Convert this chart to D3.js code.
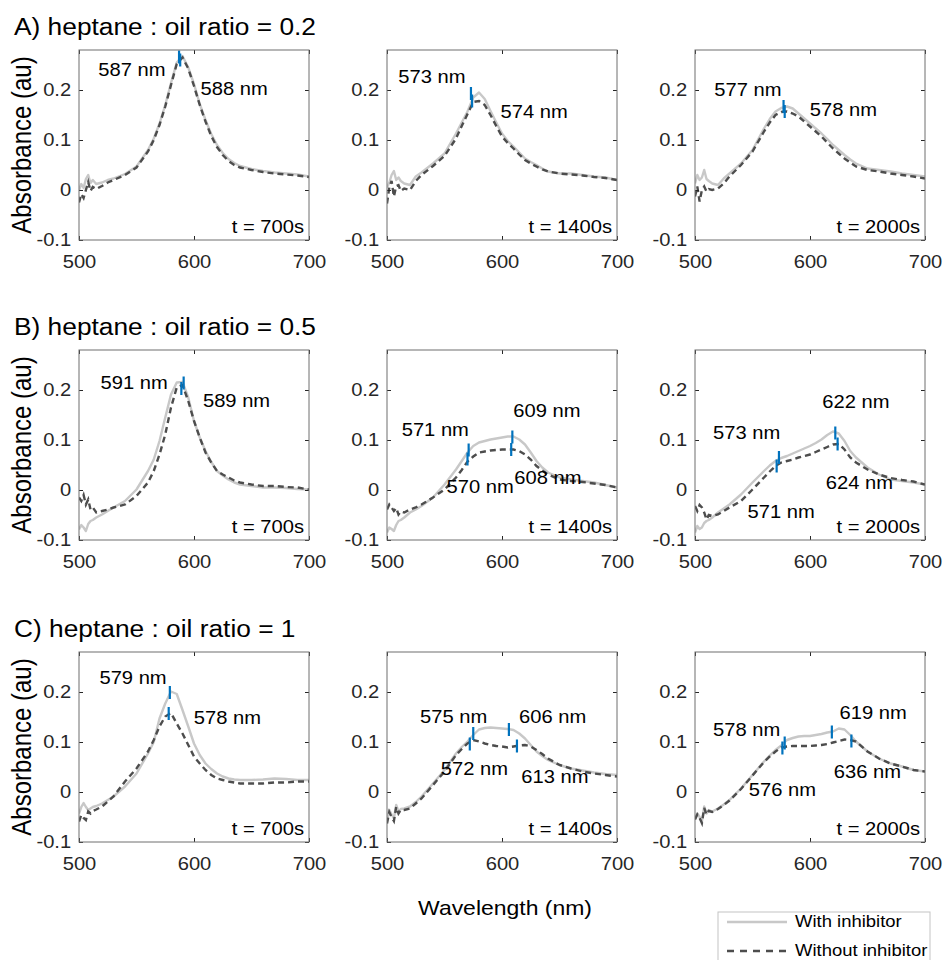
<!DOCTYPE html>
<html>
<head>
<meta charset="utf-8">
<script src="https://cdn.jsdelivr.net/npm/d3@7"></script>
<style>
  body { margin: 0; background: #fff; }
  svg text { font-family: "Liberation Sans", Arial, sans-serif; }
</style>
</head>
<body>
<svg id="chart" width="943" height="960"></svg>
<script>
// shared wavelength grid (nm)
const wavelength = [500, 502, 504, 506, 508, 510, 512, 515, 520, 525, 530, 540, 550, 560, 565, 570, 575, 580,
  585, 590, 595, 600, 605, 610, 615, 620, 625, 630, 635, 640, 650, 660, 670, 680, 690, 700];

// absorbance, with / without inhibitor, row A (ratio 0.2)
const a1With = [0.000, 0.012, 0.004, 0.022, 0.030, 0.014, 0.020, 0.012, 0.015, 0.020, 0.023, 0.032, 0.047, 0.080, 0.103, 0.133, 0.170, 0.214,
  0.255, 0.268, 0.245, 0.212, 0.172, 0.140, 0.112, 0.090, 0.074, 0.062, 0.054, 0.048, 0.042, 0.038, 0.035, 0.033, 0.031, 0.027];
const a1Without = [-0.025, -0.008, -0.016, 0.000, 0.016, -0.002, 0.006, 0.002, 0.008, 0.015, 0.020, 0.030, 0.045, 0.077, 0.100, 0.130, 0.167, 0.210,
  0.252, 0.265, 0.243, 0.208, 0.170, 0.137, 0.108, 0.086, 0.070, 0.058, 0.050, 0.045, 0.040, 0.036, 0.033, 0.031, 0.029, 0.026];
const a2With = [0.005, 0.015, 0.030, 0.038, 0.020, 0.025, 0.018, 0.013, 0.010, 0.027, 0.035, 0.053, 0.073, 0.113, 0.135, 0.157, 0.185, 0.195,
  0.182, 0.158, 0.135, 0.113, 0.098, 0.087, 0.075, 0.063, 0.056, 0.050, 0.043, 0.037, 0.033, 0.033, 0.030, 0.027, 0.025, 0.020];
const a2Without = [-0.027, 0.005, 0.018, -0.013, 0.008, 0.010, -0.002, 0.003, 0.000, 0.018, 0.030, 0.048, 0.068, 0.103, 0.128, 0.152, 0.176, 0.178,
  0.170, 0.150, 0.128, 0.107, 0.094, 0.083, 0.071, 0.060, 0.053, 0.047, 0.041, 0.037, 0.033, 0.031, 0.029, 0.026, 0.024, 0.020];
const a3With = [0.013, 0.030, 0.020, 0.025, 0.040, 0.022, 0.018, 0.013, 0.010, 0.023, 0.033, 0.053, 0.080, 0.123, 0.142, 0.157, 0.164, 0.167,
  0.163, 0.153, 0.143, 0.133, 0.123, 0.113, 0.102, 0.090, 0.080, 0.070, 0.061, 0.053, 0.043, 0.040, 0.037, 0.033, 0.030, 0.027];
const a3Without = [-0.013, 0.007, -0.023, 0.000, 0.007, -0.003, 0.002, 0.000, 0.003, 0.013, 0.027, 0.050, 0.077, 0.117, 0.135, 0.150, 0.156, 0.157,
  0.153, 0.147, 0.137, 0.127, 0.117, 0.107, 0.095, 0.083, 0.073, 0.063, 0.055, 0.047, 0.040, 0.037, 0.033, 0.030, 0.027, 0.023];

// row B (ratio 0.5)
const b1With = [-0.079, -0.070, -0.075, -0.082, -0.068, -0.062, -0.060, -0.055, -0.049, -0.042, -0.035, -0.022, 0.001, 0.038, 0.061, 0.098, 0.145, 0.191,
  0.215, 0.216, 0.185, 0.138, 0.105, 0.078, 0.056, 0.038, 0.029, 0.021, 0.015, 0.011, 0.008, 0.005, 0.005, 0.004, 0.002, 0.001];
const b1Without = [-0.015, -0.022, -0.010, -0.029, -0.019, -0.039, -0.035, -0.045, -0.042, -0.039, -0.035, -0.029, -0.012, 0.015, 0.038, 0.071, 0.111, 0.165,
  0.205, 0.210, 0.178, 0.138, 0.105, 0.075, 0.055, 0.038, 0.031, 0.025, 0.019, 0.015, 0.011, 0.008, 0.008, 0.006, 0.005, 0.001];
const b2With = [-0.085, -0.075, -0.078, -0.082, -0.070, -0.062, -0.060, -0.055, -0.045, -0.039, -0.032, -0.015, 0.011, 0.041, 0.058, 0.075, 0.088, 0.095,
  0.098, 0.101, 0.103, 0.105, 0.107, 0.107, 0.101, 0.091, 0.075, 0.058, 0.045, 0.035, 0.025, 0.021, 0.018, 0.015, 0.010, 0.005];
const b2Without = [-0.039, -0.029, -0.035, -0.042, -0.036, -0.049, -0.043, -0.045, -0.039, -0.035, -0.029, -0.015, 0.001, 0.025, 0.040, 0.057, 0.067, 0.075,
  0.077, 0.079, 0.080, 0.081, 0.081, 0.081, 0.078, 0.071, 0.061, 0.048, 0.039, 0.031, 0.021, 0.018, 0.016, 0.013, 0.010, 0.005];
const b3With = [-0.085, -0.072, -0.078, -0.075, -0.066, -0.062, -0.060, -0.055, -0.045, -0.037, -0.029, -0.009, 0.015, 0.038, 0.049, 0.058, 0.064, 0.068,
  0.073, 0.078, 0.083, 0.088, 0.094, 0.101, 0.110, 0.117, 0.113, 0.098, 0.078, 0.065, 0.045, 0.031, 0.021, 0.018, 0.015, 0.011];
const b3Without = [-0.032, -0.042, -0.030, -0.035, -0.045, -0.059, -0.050, -0.052, -0.049, -0.042, -0.035, -0.022, 0.001, 0.025, 0.037, 0.048, 0.055, 0.058,
  0.061, 0.065, 0.068, 0.071, 0.076, 0.081, 0.086, 0.091, 0.092, 0.081, 0.065, 0.055, 0.041, 0.031, 0.024, 0.020, 0.017, 0.011];

// row C (ratio 1)
const c1With = [-0.043, -0.030, -0.022, -0.030, -0.036, -0.033, -0.030, -0.028, -0.023, -0.016, -0.009, 0.011, 0.037, 0.077, 0.100, 0.147, 0.177, 0.201,
  0.196, 0.164, 0.131, 0.097, 0.074, 0.057, 0.046, 0.037, 0.031, 0.027, 0.025, 0.024, 0.024, 0.025, 0.027, 0.026, 0.024, 0.024];
const c1Without = [-0.059, -0.046, -0.052, -0.056, -0.039, -0.043, -0.038, -0.035, -0.029, -0.019, -0.009, 0.021, 0.047, 0.081, 0.104, 0.131, 0.151, 0.158,
  0.137, 0.117, 0.094, 0.071, 0.057, 0.044, 0.034, 0.027, 0.024, 0.021, 0.019, 0.017, 0.017, 0.017, 0.019, 0.019, 0.021, 0.021];
const c2With = [-0.056, -0.036, -0.045, -0.053, -0.026, -0.039, -0.034, -0.033, -0.029, -0.020, -0.009, 0.017, 0.044, 0.077, 0.090, 0.101, 0.114, 0.125,
  0.128, 0.129, 0.128, 0.127, 0.126, 0.124, 0.117, 0.107, 0.094, 0.081, 0.072, 0.064, 0.054, 0.047, 0.043, 0.039, 0.036, 0.034];
const c2Without = [-0.063, -0.040, -0.050, -0.058, -0.030, -0.043, -0.036, -0.036, -0.033, -0.023, -0.013, 0.014, 0.041, 0.074, 0.086, 0.097, 0.104, 0.101,
  0.097, 0.094, 0.092, 0.091, 0.089, 0.091, 0.093, 0.094, 0.091, 0.084, 0.076, 0.067, 0.054, 0.047, 0.041, 0.037, 0.034, 0.031];
const c3With = [-0.053, -0.043, -0.050, -0.059, -0.029, -0.043, -0.036, -0.039, -0.033, -0.025, -0.016, 0.007, 0.034, 0.061, 0.073, 0.084, 0.093, 0.104,
  0.108, 0.111, 0.112, 0.112, 0.114, 0.116, 0.119, 0.121, 0.127, 0.125, 0.114, 0.101, 0.081, 0.067, 0.057, 0.051, 0.044, 0.041];
const c3Without = [-0.055, -0.045, -0.052, -0.062, -0.032, -0.045, -0.038, -0.040, -0.034, -0.026, -0.017, 0.006, 0.033, 0.060, 0.071, 0.081, 0.089, 0.091,
  0.092, 0.092, 0.092, 0.092, 0.093, 0.094, 0.096, 0.099, 0.102, 0.105, 0.104, 0.101, 0.081, 0.067, 0.057, 0.051, 0.044, 0.041];

// peak positions marked in blue: [wavelength, absorbance]
const a1Peaks = [[587, 0.266], [588, 0.260]];
const a2Peaks = [[573, 0.193], [574, 0.178]];
const a3Peaks = [[577, 0.167], [578, 0.157]];
const b1Peaks = [[591, 0.214], [589, 0.203]];
const b2Peaks = [[571, 0.080], [570, 0.062], [609, 0.106], [608, 0.081]];
const b3Peaks = [[573, 0.065], [571, 0.048], [622, 0.114], [624, 0.092]];
const c1Peaks = [[579, 0.199], [578, 0.157]];
const c2Peaks = [[575, 0.117], [572, 0.096], [606, 0.125], [613, 0.092]];
const c3Peaks = [[578, 0.098], [576, 0.088], [619, 0.120], [636, 0.102]];

// peak labels: [text, wavelength of label centre, absorbance of label centre]
const a1Notes = [['587 nm', 546, 0.240], ['588 nm', 635, 0.202]];
const a2Notes = [['573 nm', 539, 0.227], ['574 nm', 628, 0.157]];
const a3Notes = [['577 nm', 546, 0.200], ['578 nm', 629, 0.160]];
const b1Notes = [['591 nm', 548, 0.215], ['589 nm', 637, 0.178]];
const b2Notes = [['571 nm', 542, 0.121], ['609 nm', 639, 0.158], ['570 nm', 581, 0.007], ['608 nm', 640, 0.025]];
const b3Notes = [['573 nm', 545, 0.115], ['622 nm', 640, 0.176], ['624 nm', 643, 0.015], ['571 nm', 575, -0.043]];
const c1Notes = [['579 nm', 547, 0.229], ['578 nm', 629, 0.149]];
const c2Notes = [['575 nm', 558, 0.151], ['606 nm', 644, 0.151], ['572 nm', 576, 0.047], ['613 nm', 646, 0.031]];
const c3Notes = [['578 nm', 545, 0.124], ['619 nm', 655, 0.159], ['636 nm', 650, 0.041], ['576 nm', 576, 0.005]];

const rowTitles = ['A) heptane : oil ratio = 0.2', 'B) heptane : oil ratio = 0.5', 'C) heptane : oil ratio = 1'];
const timeLabels = ['t = 700s', 't = 1400s', 't = 2000s'];
const xTicks = [500, 600, 700];
const yTicks = [-0.1, 0, 0.1, 0.2];
const seriesNames = ['With inhibitor', 'Without inhibitor'];

const panels = [
  [a1With, a1Without, a1Peaks, a1Notes], [a2With, a2Without, a2Peaks, a2Notes], [a3With, a3Without, a3Peaks, a3Notes],
  [b1With, b1Without, b1Peaks, b1Notes], [b2With, b2Without, b2Peaks, b2Notes], [b3With, b3Without, b3Peaks, b3Notes],
  [c1With, c1Without, c1Peaks, c1Notes], [c2With, c2Without, c2Peaks, c2Notes], [c3With, c3Without, c3Peaks, c3Notes]
];

// layout
const colX = [79, 387, 695];
const rowY = [50, 350, 652];
const W = 230, H = 190;
const SX = 1.12; // source figure text is stretched horizontally
const lightColor = '#c8c8c8', darkColor = '#4d4d4d', blue = '#0072BD';
const dash = '6,4';

const svg = d3.select('#chart');

function addText(parent, x, y, str, size, anchor = 'start', rotate = 0) {
  const t = rotate
    ? `translate(${x},${y}) rotate(${rotate}) scale(1,${SX})`
    : `translate(${x},${y}) scale(${SX},1)`;
  return parent.append('g').attr('transform', t)
    .append('text')
    .attr('text-anchor', anchor)
    .style('font-size', size + 'px')
    .attr('fill', '#000')
    .text(str);
}

const x = d3.scaleLinear().domain([500, 700]).range([0, W]);
const y = d3.scaleLinear().domain([-0.1, 0.28]).range([H, 0]);
const line = d3.line().x((d, i) => x(wavelength[i])).y(d => y(d));

svg.append('defs').append('clipPath').attr('id', 'plotclip')
  .append('rect').attr('width', W).attr('height', H);

rowTitles.forEach((t, r) => addText(svg, 14, rowY[r] - 15, t, 23.5));

panels.forEach(([withI, withoutI, peaks, notes], k) => {
  const r = Math.floor(k / 3), c = k % 3;
  const g = svg.append('g').attr('transform', `translate(${colX[c]},${rowY[r]})`);

  const plot = g.append('g').attr('clip-path', 'url(#plotclip)');
  plot.append('path').datum(withI)
    .attr('fill', 'none').attr('stroke', lightColor).attr('stroke-width', 2.4)
    .attr('stroke-linejoin', 'round').attr('d', line);
  plot.append('path').datum(withoutI)
    .attr('fill', 'none').attr('stroke', darkColor).attr('stroke-width', 2.4)
    .attr('stroke-dasharray', dash).attr('d', line);

  plot.selectAll(null).data(peaks).enter().append('line')
    .attr('x1', d => x(d[0])).attr('x2', d => x(d[0]))
    .attr('y1', d => y(d[1] - 0.013)).attr('y2', d => y(d[1] + 0.013))
    .attr('stroke', blue).attr('stroke-width', 2.2);

  notes.forEach(([t, wl, v]) => addText(g, x(wl), y(v), t, 18, 'middle').attr('dy', '0.35em'));
  addText(g, W - 5, H - 7, timeLabels[c], 18, 'end');

  // axes with inside ticks on all four sides
  const bottom = g.append('g').attr('transform', `translate(0,${H})`)
    .call(d3.axisBottom(x).tickValues(xTicks).tickSizeInner(-4).tickSizeOuter(0).tickPadding(15));
  const left = g.append('g')
    .call(d3.axisLeft(y).tickValues(yTicks).tickFormat(d => String(d)).tickSizeInner(-4).tickSizeOuter(0).tickPadding(7));
  g.append('g').call(d3.axisTop(x).tickValues(xTicks).tickSizeInner(-4).tickSizeOuter(0).tickFormat(''));
  g.append('g').attr('transform', `translate(${W},0)`)
    .call(d3.axisRight(y).tickValues(yTicks).tickSizeInner(-4).tickSizeOuter(0).tickFormat(''));
  g.selectAll('.domain').remove();
  g.selectAll('.tick line').attr('stroke', '#262626');
  [bottom, left].forEach(a => a.selectAll('text')
    .attr('transform', `scale(${SX},1)`)
    .attr('fill', '#262626')
    .style('font-size', '18px')
    .style('font-family', '"Liberation Sans", Arial, sans-serif'));

  g.append('rect').attr('width', W).attr('height', H)
    .attr('fill', 'none').attr('stroke', '#6e6e6e').attr('stroke-width', 1);

  if (c === 0) addText(svg, 31, rowY[r] + H / 2, 'Absorbance (au)', 24, 'middle', -90);
});

addText(svg, 505, 915, 'Wavelength (nm)', 20.5, 'middle');

// legend
const lg = svg.append('g').attr('transform', 'translate(718,912)');
lg.append('rect').attr('width', 212).attr('height', 60)
  .attr('fill', '#fff').attr('stroke', '#c4c4c4').attr('stroke-width', 1);
seriesNames.forEach((name, i) => {
  lg.append('line').attr('x1', 9).attr('x2', 69).attr('y1', 10 + i * 29).attr('y2', 10 + i * 29)
    .attr('stroke', i ? darkColor : lightColor).attr('stroke-width', 2.4)
    .attr('stroke-dasharray', i ? '7,6' : null);
  addText(lg, 77, 15 + i * 29, name, 16.5);
});
</script>
</body>
</html>
